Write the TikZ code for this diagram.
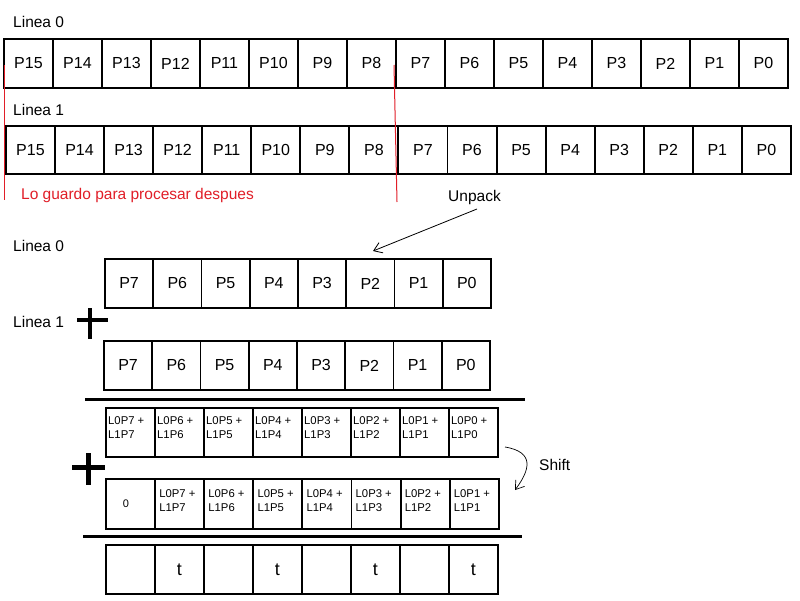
\documentclass[tikz,border=0pt]{standalone}
\usepackage{fontspec}
\setmainfont{Liberation Sans}
\usetikzlibrary{arrows.meta}
\definecolor{redmark}{RGB}{225,30,40}
\begin{document}
\begin{tikzpicture}[x=1pt,y=-1pt,
  cell/.style={draw, line width=1.9pt, anchor=north west, inner sep=0pt, font=\fontsize{16}{18}\selectfont},
  smallcell/.style={font=\fontsize{11.3}{14}\selectfont, anchor=north west, inner sep=0pt, align=left},
  lbl/.style={anchor=base west, inner sep=0pt, font=\fontsize{15.5}{18}\selectfont},
  sep/.style={line width=3pt},
  plus/.style={line width=3.5pt},
  redln/.style={redmark, line width=1pt},
  arr/.style={-{Straight Barb[length=8pt,width=11pt]}, line width=0.8pt}
]
\useasboundingbox[fill=white] (0,0) rectangle (800,600);
% top: Linea 0
\node[lbl] (l0a) at (13,27) {Linea 0};
\foreach \i in {0,...,15} {
  \pgfmathtruncatemacro\n{15-\i}
  \node[cell, minimum width=49pt, minimum height=49pt] (a\i) at ({3+49*\i},38) {P\n};
}
% top: Linea 1
\node[lbl] (l1a) at (13,115) {Linea 1};
\foreach \i in {0,...,15} {
  \pgfmathtruncatemacro\n{15-\i}
  \node[cell, minimum width=49.06pt, minimum height=48pt] (b\i) at ({5+49.06*\i},125) {P\n};
}
% red marks
\draw[redln] (4,65) -- (4,200);
\draw[redln] (394,65) -- (397,202);
\node[lbl, text=redmark] (keep) at (21,199) {Lo guardo para procesar despues};
% unpack
\node[lbl] (unp) at (448,201) {Unpack};
\coordinate (unpS) at (477,209);
\coordinate (unpE) at (373,251);
\draw[arr] (unpS) -- (unpE);
% lower Linea 0
\node[lbl] (l0b) at (13,251) {Linea 0};
\foreach \i in {0,...,7} {
  \pgfmathtruncatemacro\n{7-\i}
  \node[cell, minimum width=48.25pt, minimum height=49pt] (c\i) at ({104+48.25*\i},258) {P\n};
}
\node[lbl] (l1b) at (13,327) {Linea 1};
\draw[plus] (77,320) -- (108,320);
\draw[plus] (90,308) -- (90,339);
\foreach \i in {0,...,7} {
  \pgfmathtruncatemacro\n{7-\i}
  \node[cell, minimum width=48.25pt, minimum height=49pt] (d\i) at ({103+48.25*\i},340) {P\n};
}
\draw[sep] (85,399) -- (525,399);
% sums
\foreach \i in {0,...,7} {
  \pgfmathtruncatemacro\n{7-\i}
  \node[cell, minimum width=49pt, minimum height=49pt] (e\i) at ({105+49*\i},407) {};
  \node[smallcell] (et\i) at ([shift={(3,9)}]e\i.north west) {L0P\n\ +\\L1P\n};
}
\draw[line width=5pt] (72,467) -- (105,467);
\draw[line width=5pt] (88,453) -- (88,485);
% shifted
\node[cell, minimum width=49.1pt, minimum height=50pt, font=\fontsize{11}{13}\selectfont] (f0) at (105,478) {\hspace*{-9pt}0};
\foreach \i in {1,...,7} {
  \pgfmathtruncatemacro\n{8-\i}
  \node[cell, minimum width=49.1pt, minimum height=50pt] (f\i) at ({105+49.1*\i},478) {};
  \node[smallcell] (ft\i) at ([shift={(5,11)}]f\i.north west) {L0P\n\ +\\L1P\n};
}
\coordinate (shS) at (505,447);
\coordinate (shE) at (515,490);
\draw[arr, line width=0.7pt] (shS) .. controls (535,452) and (530,470) .. (shE);
\node[lbl] (shl) at (539,470) {Shift};
\draw[sep] (83,536) -- (522,536);
% result
\foreach \i in {0,...,7} {
  \pgfmathtruncatemacro\odd{mod(\i,2)}
  \ifnum\odd=1
    \node[cell, minimum width=49pt, minimum height=49pt, font=\fontsize{18}{20}\selectfont] (g\i) at ({105+49*\i},544) {\raisebox{-3pt}{t}};
  \else
    \node[cell, minimum width=49pt, minimum height=49pt] (g\i) at ({105+49*\i},544) {};
  \fi
}
\end{tikzpicture}
\end{document}
